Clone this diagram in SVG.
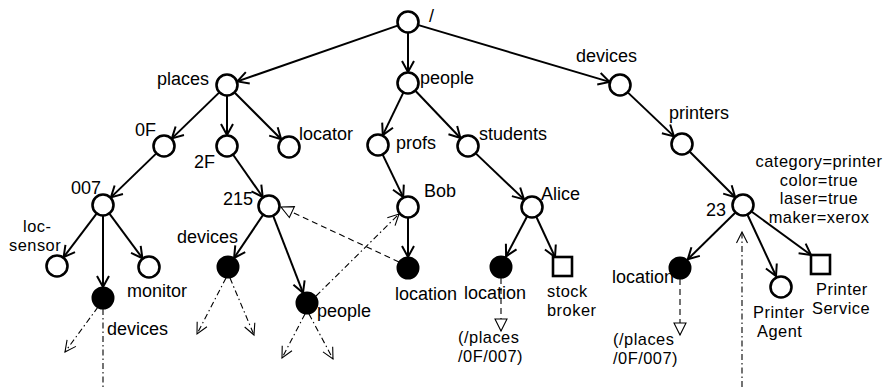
<svg xmlns="http://www.w3.org/2000/svg" width="887" height="387" viewBox="0 0 887 387">
<defs>
<style>
text{font-family:"Liberation Sans",Arial,sans-serif;font-size:18px;fill:#000}
text.ml{font-size:16.4px;letter-spacing:0.5px}
.n{fill:#fff;stroke:#000;stroke-width:2.6}
.f{fill:#000;stroke:#000;stroke-width:2}
.sq{fill:#fff;stroke:#000;stroke-width:2.6}
.e{stroke:#000;stroke-width:2;fill:none;marker-end:url(#arr)}
.dd{stroke:#000;stroke-width:1.1;fill:none;stroke-dasharray:6,3,1.5,3}
.dda{stroke:#000;stroke-width:1.1;fill:none;stroke-dasharray:6,3,1.5,3;marker-end:url(#thin)}
.ds{stroke:#000;stroke-width:1.1;fill:none;stroke-dasharray:6,4;marker-end:url(#tri)}
.mid{text-anchor:middle}
</style>
<marker id="arr" markerUnits="userSpaceOnUse" viewBox="-13 -8 15 16" markerWidth="15" markerHeight="16" refX="0" refY="0" orient="auto">
<path d="M-11,-6 L0,0 L-11,6" fill="none" stroke="#000" stroke-width="2"/>
</marker>
<marker id="thin" markerUnits="userSpaceOnUse" viewBox="-13 -8 15 16" markerWidth="15" markerHeight="16" refX="0" refY="0" orient="auto">
<path d="M-11,-5.5 L0,0 L-11,5.5" fill="none" stroke="#000" stroke-width="1.1"/>
</marker>
<marker id="tri" markerUnits="userSpaceOnUse" viewBox="-14 -8 16 16" markerWidth="16" markerHeight="16" refX="0" refY="0" orient="auto">
<path d="M-12,-6 L0,0 L-12,6 Z" fill="#fff" stroke="#000" stroke-width="1.1"/>
</marker>
</defs>
<rect width="887" height="387" fill="#fff"/>

<g id="connectors">
<line class="e" x1="397.6" y1="25.6" x2="237.4" y2="81.4"/>
<line class="e" x1="408" y1="33" x2="408" y2="72"/>
<line class="e" x1="418.5" y1="25.1" x2="609.5" y2="81.9"/>
<line class="e" x1="219.1" y1="92.6" x2="171.9" y2="138.4"/>
<line class="e" x1="227" y1="96" x2="227" y2="135"/>
<line class="e" x1="234.8" y1="92.8" x2="281.2" y2="139.2"/>
<line class="e" x1="403.2" y1="92.9" x2="382.8" y2="135.1"/>
<line class="e" x1="415.6" y1="91" x2="460.4" y2="138"/>
<line class="e" x1="628" y1="92.6" x2="674" y2="136.4"/>
<line class="e" x1="156.1" y1="153.6" x2="110.9" y2="197.4"/>
<line class="e" x1="233.3" y1="155" x2="262.7" y2="197"/>
<line class="e" x1="382.8" y1="154.9" x2="403.2" y2="197.1"/>
<line class="e" x1="476" y1="153.6" x2="524" y2="199.4"/>
<line class="e" x1="689.8" y1="151.8" x2="735.2" y2="197.2"/>
<line class="e" x1="96.4" y1="213.8" x2="63.6" y2="257.2"/>
<line class="e" x1="103" y1="216" x2="103" y2="287"/>
<line class="e" x1="109.6" y1="213.8" x2="142.4" y2="258.2"/>
<line class="e" x1="262.9" y1="215.1" x2="234.1" y2="257.9"/>
<line class="e" x1="273" y1="215.3" x2="303" y2="292.8"/>
<line class="e" x1="408" y1="218" x2="408" y2="257"/>
<line class="e" x1="526.9" y1="216.7" x2="506.1" y2="256.3"/>
<line class="e" x1="536.4" y1="217" x2="555" y2="257"/>
<line class="e" x1="735.2" y1="212.7" x2="687.8" y2="259.3"/>
<line class="e" x1="747.6" y1="215" x2="776" y2="276"/>
<line class="e" x1="751.8" y1="211.7" x2="811" y2="255"/>

<line class="dda" x1="98" y1="307" x2="65" y2="352"/>
<line class="dd" x1="103" y1="309" x2="103" y2="387"/>
<line class="dda" x1="226" y1="278" x2="197" y2="334"/>
<line class="dda" x1="230" y1="278" x2="254" y2="335"/>
<line class="dda" x1="305" y1="314" x2="282" y2="358"/>
<line class="dda" x1="309" y1="314" x2="333" y2="359"/>
<line class="dda" x1="316" y1="296" x2="399" y2="214"/>
<line class="ds" x1="399" y1="262" x2="281" y2="207"/>
<line class="ds" x1="501" y1="278" x2="501" y2="331"/>
<line class="ds" x1="680" y1="279" x2="680" y2="335"/>
<line class="dda" x1="742" y1="387" x2="742" y2="232"/>
</g>

<g id="root"><circle class="n" cx="408" cy="22" r="10.5"/><text x="429" y="22">/</text></g>
<g id="places"><circle class="n" cx="227" cy="85" r="10.5"/><text x="157" y="85">places</text></g>
<g id="people"><circle class="n" cx="408" cy="83" r="10.5"/><text x="420" y="84">people</text></g>
<g id="devices"><circle class="n" cx="620" cy="85" r="10.5"/><text x="576" y="62">devices</text></g>
<g id="n0F"><circle class="n" cx="164" cy="146" r="10.5"/><text x="135" y="136">0F</text></g>
<g id="n2F"><circle class="n" cx="227" cy="146" r="10.5"/><text x="194" y="168">2F</text></g>
<g id="locator"><circle class="n" cx="289" cy="147" r="10.5"/><text x="299" y="140">locator</text></g>
<g id="profs"><circle class="n" cx="378" cy="145" r="10.5"/><text x="396" y="149">profs</text></g>
<g id="students"><circle class="n" cx="468" cy="146" r="10.5"/><text x="479" y="140">students</text></g>
<g id="printers"><circle class="n" cx="682" cy="144" r="10.5"/><text x="669" y="119">printers</text></g>
<g id="n007"><circle class="n" cx="103" cy="205" r="10.5"/><text x="71" y="194">007</text></g>
<g id="n215"><circle class="n" cx="269" cy="206" r="10.5"/><text x="223" y="205">215</text></g>
<g id="bob"><circle class="n" cx="408" cy="207" r="10.5"/><text x="424" y="197">Bob</text></g>
<g id="alice"><circle class="n" cx="532" cy="207" r="10.5"/><text x="541" y="200">Alice</text></g>
<g id="n23"><circle class="n" cx="743" cy="205" r="10.5"/><text x="706" y="216">23</text>
<text class="ml mid" y="167"><tspan x="819">category=printer</tspan><tspan x="819" dy="18.5">color=true</tspan><tspan x="819" dy="18.5">laser=true</tspan><tspan x="819" dy="18.5">maker=xerox</tspan></text></g>
<g id="locsensor"><circle class="n" cx="57" cy="266" r="10.5"/><text class="ml" y="232"><tspan x="23">loc-</tspan><tspan x="9" dy="18.5">sensor</tspan></text></g>
<g id="devices007"><circle class="f" cx="103" cy="298" r="10.5"/><text x="107" y="335">devices</text></g>
<g id="monitor"><circle class="n" cx="149" cy="267" r="10.5"/><text x="127" y="297">monitor</text></g>
<g id="devices215"><circle class="f" cx="228" cy="267" r="10.5"/><text x="177" y="243">devices</text></g>
<g id="people215"><circle class="f" cx="307" cy="303" r="10.5"/><text x="317" y="317">people</text></g>
<g id="locbob"><circle class="f" cx="408" cy="268" r="10.5"/><text x="395" y="300">location</text></g>
<g id="localice"><circle class="f" cx="501" cy="267" r="10.5"/><text x="464" y="299">location</text>
<text class="ml" y="343"><tspan x="458">(/places</tspan><tspan x="458" dy="18.5">/0F/007)</tspan></text></g>
<g id="stockbroker"><rect class="sq" x="553" y="257" width="19" height="19"/><text class="ml" y="297"><tspan x="547">stock</tspan><tspan x="547" dy="18.5">broker</tspan></text></g>
<g id="loc23"><circle class="f" cx="680" cy="268" r="10.5"/><text x="612" y="283">location</text>
<text class="ml" y="345"><tspan x="613">(/places</tspan><tspan x="613" dy="18.5">/0F/007)</tspan></text></g>
<g id="printeragent"><circle class="n" cx="781" cy="287" r="10.5"/><text class="ml" y="318"><tspan x="753">Printer</tspan><tspan x="757" dy="18.5">Agent</tspan></text></g>
<g id="printerservice"><rect class="sq" x="811" y="255" width="19" height="19"/><text class="ml" y="295"><tspan x="816">Printer</tspan><tspan x="812" dy="18.5">Service</tspan></text></g>
</svg>
